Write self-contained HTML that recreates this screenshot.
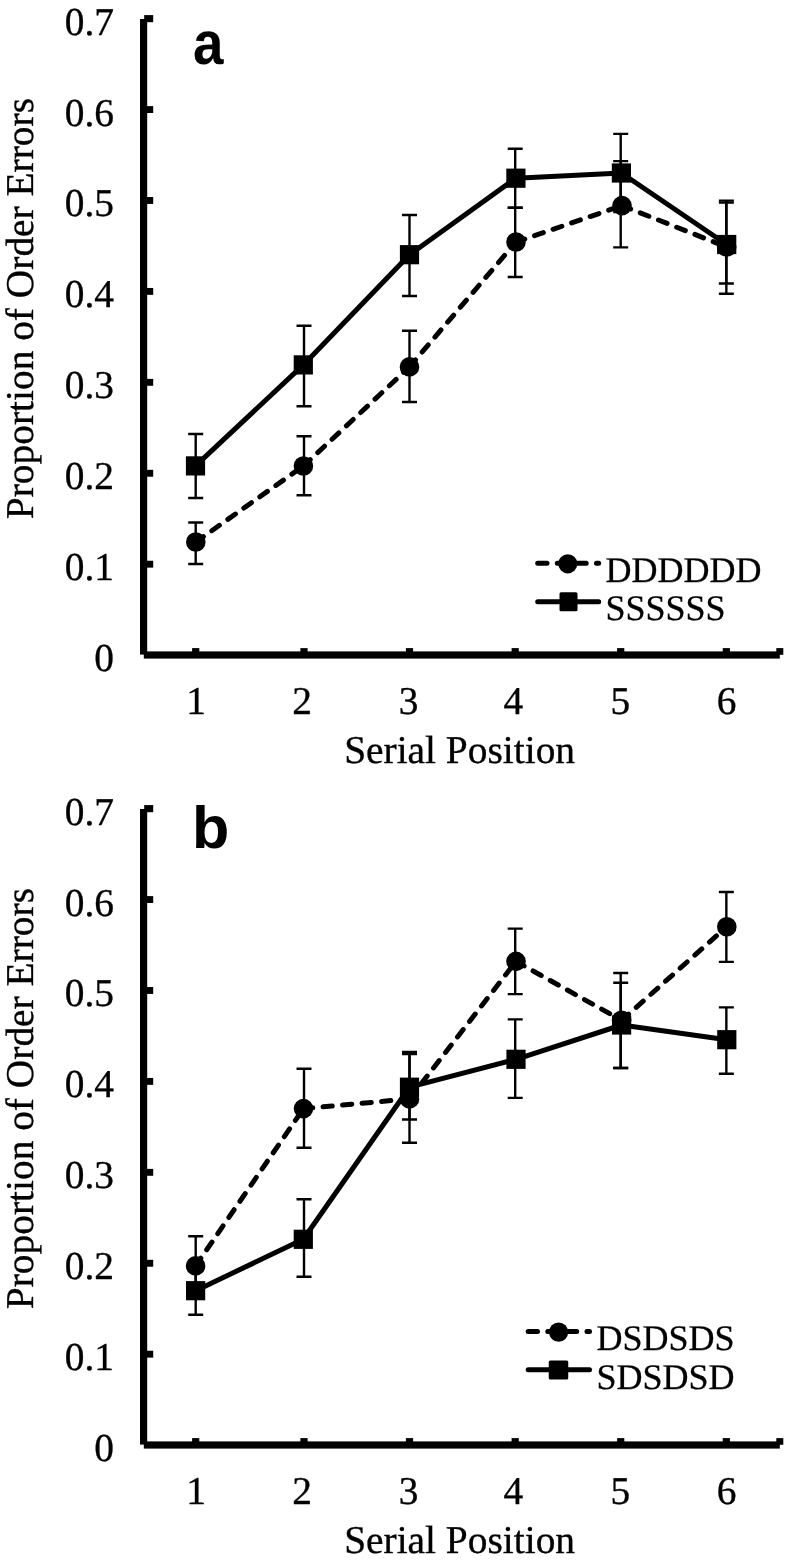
<!DOCTYPE html>
<html><head><meta charset="utf-8"><title>Serial Position Chart</title>
<style>
html,body{margin:0;padding:0;background:#fff;}
body{width:785px;height:1565px;overflow:hidden;}
svg{display:block;will-change:transform;text-rendering:geometricPrecision;}
.lab{font-family:"Liberation Serif",serif;font-size:39.4px;fill:#000;stroke:#000;stroke-width:0.35px;}
.leg{font-family:"Liberation Serif",serif;font-size:36px;fill:#000;stroke:#000;stroke-width:0.3px;}
.let{font-family:"Liberation Sans",sans-serif;font-weight:bold;font-size:60.8px;fill:#000;}
</style></head>
<body>
<svg width="785" height="1565" viewBox="0 0 785 1565">
<rect width="785" height="1565" fill="#fff"/>
<g fill="#000">
<rect x="140" y="19" width="7.2" height="635.6" />
<rect x="146" y="560.75" width="7.2" height="6.9" />
<rect x="146" y="469.82" width="7.2" height="6.9" />
<rect x="146" y="378.89" width="7.2" height="6.9" />
<rect x="146" y="287.96" width="7.2" height="6.9" />
<rect x="146" y="197.03" width="7.2" height="6.9" />
<rect x="146" y="106.1" width="7.2" height="6.9" />
<rect x="144.2" y="15.1" width="9" height="7.1" />
<rect x="143.8" y="651.4" width="636" height="7.2" />
<rect x="192.1" y="648.1" width="7.2" height="4" />
<rect x="300.4" y="648.1" width="7.2" height="4" />
<rect x="405.9" y="648.1" width="7.2" height="4" />
<rect x="511.6" y="648.1" width="7.2" height="4" />
<rect x="617.1" y="648.1" width="7.2" height="4" />
<rect x="722.75" y="648.1" width="7.2" height="4" />
<rect x="776.3" y="648.1" width="7" height="6.7" />
<rect x="140" y="809" width="7.2" height="635.6" />
<rect x="146" y="1350.75" width="7.2" height="6.9" />
<rect x="146" y="1259.82" width="7.2" height="6.9" />
<rect x="146" y="1168.89" width="7.2" height="6.9" />
<rect x="146" y="1077.96" width="7.2" height="6.9" />
<rect x="146" y="987.03" width="7.2" height="6.9" />
<rect x="146" y="896.1" width="7.2" height="6.9" />
<rect x="144.2" y="805.1" width="9" height="7.1" />
<rect x="143.8" y="1441.4" width="636" height="7.2" />
<rect x="192.1" y="1438.1" width="7.2" height="4" />
<rect x="300.4" y="1438.1" width="7.2" height="4" />
<rect x="405.9" y="1438.1" width="7.2" height="4" />
<rect x="511.6" y="1438.1" width="7.2" height="4" />
<rect x="617.1" y="1438.1" width="7.2" height="4" />
<rect x="722.75" y="1438.1" width="7.2" height="4" />
<rect x="776.3" y="1438.1" width="7" height="6.7" />
<text x="114" y="671.13" class="lab" text-anchor="end">0</text>
<text x="114" y="580.2" class="lab" text-anchor="end">0.1</text>
<text x="114" y="489.27" class="lab" text-anchor="end">0.2</text>
<text x="114" y="398.34" class="lab" text-anchor="end">0.3</text>
<text x="114" y="307.41" class="lab" text-anchor="end">0.4</text>
<text x="114" y="216.48" class="lab" text-anchor="end">0.5</text>
<text x="114" y="125.55" class="lab" text-anchor="end">0.6</text>
<text x="114" y="34.62" class="lab" text-anchor="end">0.7</text>
<text x="196.2" y="714" class="lab" text-anchor="middle">1</text>
<text x="302.2" y="714" class="lab" text-anchor="middle">2</text>
<text x="408.5" y="714" class="lab" text-anchor="middle">3</text>
<text x="513.4" y="714" class="lab" text-anchor="middle">4</text>
<text x="620.3" y="714" class="lab" text-anchor="middle">5</text>
<text x="726.65" y="714" class="lab" text-anchor="middle">6</text>
<text x="459.6" y="763.4" class="lab" text-anchor="middle">Serial Position</text>
<text transform="translate(33,308.6) rotate(-90)" class="lab" text-anchor="middle">Proportion of Order Errors</text>
<text x="114" y="1461.13" class="lab" text-anchor="end">0</text>
<text x="114" y="1370.2" class="lab" text-anchor="end">0.1</text>
<text x="114" y="1279.27" class="lab" text-anchor="end">0.2</text>
<text x="114" y="1188.34" class="lab" text-anchor="end">0.3</text>
<text x="114" y="1097.41" class="lab" text-anchor="end">0.4</text>
<text x="114" y="1006.48" class="lab" text-anchor="end">0.5</text>
<text x="114" y="915.55" class="lab" text-anchor="end">0.6</text>
<text x="114" y="824.62" class="lab" text-anchor="end">0.7</text>
<text x="196.2" y="1504" class="lab" text-anchor="middle">1</text>
<text x="302.2" y="1504" class="lab" text-anchor="middle">2</text>
<text x="408.5" y="1504" class="lab" text-anchor="middle">3</text>
<text x="513.4" y="1504" class="lab" text-anchor="middle">4</text>
<text x="620.3" y="1504" class="lab" text-anchor="middle">5</text>
<text x="726.65" y="1504" class="lab" text-anchor="middle">6</text>
<text x="459.6" y="1553.4" class="lab" text-anchor="middle">Serial Position</text>
<text transform="translate(33,1098.6) rotate(-90)" class="lab" text-anchor="middle">Proportion of Order Errors</text>
<text x="194.6" y="64.1" class="let" transform="translate(194.6,0) scale(0.9,1) translate(-194.6,0)" dx="-1.8">a</text>
<text x="196.1" y="847.7" class="let" style="font-size:59.4px" transform="translate(196.1,0) scale(1.027,1) translate(-196.1,0)" dx="-3.9">b</text>
<path d="M195.8,542 L303.4,466 M303.4,466 L409.5,366.9 M409.5,366.9 L516,242 M516,242 L622,205.6 M622,205.6 L726.7,247" fill="none" stroke="#000" stroke-width="5.0" stroke-dasharray="9.3 10.3" stroke-linecap="round"/>
<path d="M195.5,465.9 L303.3,364.9 L409.5,254.7 L515.9,178.2 L621.4,173 L726.7,244.5" fill="none" stroke="#000" stroke-width="5.0" stroke-linejoin="round"/>
<g fill="none" stroke="#000" stroke-width="2.4"><path d="M195.7,522.5 V564 M188.2,522.5 H203.2 M188.2,564 H203.2" />
<path d="M304,436.3 V495.2 M296.5,436.3 H311.5 M296.5,495.2 H311.5" />
<path d="M409.5,330.7 V402 M402,330.7 H417 M402,402 H417" />
<path d="M515.2,207.7 V277 M507.7,207.7 H522.7 M507.7,277 H522.7" />
<path d="M620.7,161.1 V247.4 M613.2,161.1 H628.2 M613.2,247.4 H628.2" />
<path d="M726.35,202.6 V293.7 M718.85,202.6 H733.85 M718.85,293.7 H733.85" /></g>
<g fill="none" stroke="#000" stroke-width="2.4"><path d="M195.7,434 V498 M188.2,434 H203.2 M188.2,498 H203.2" />
<path d="M304,325.8 V406.2 M296.5,325.8 H311.5 M296.5,406.2 H311.5" />
<path d="M409.5,215 V296 M402,215 H417 M402,296 H417" />
<path d="M515.2,148.7 V207.7 M507.7,148.7 H522.7 M507.7,207.7 H522.7" />
<path d="M620.7,133.9 V212 M613.2,133.9 H628.2 M613.2,212 H628.2" />
<path d="M726.35,200.6 V283.5 M718.85,200.6 H733.85 M718.85,283.5 H733.85" /></g>
<circle cx="195.8" cy="542" r="9.8" />
<circle cx="303.4" cy="466" r="9.8" />
<circle cx="409.5" cy="366.9" r="9.8" />
<circle cx="516" cy="242" r="9.8" />
<circle cx="622" cy="205.6" r="9.8" />
<circle cx="726.7" cy="247" r="9.8" />
<rect x="185.9" y="456.3" width="19.2" height="19.2" />
<rect x="293.7" y="355.3" width="19.2" height="19.2" />
<rect x="399.9" y="245.1" width="19.2" height="19.2" />
<rect x="506.3" y="168.6" width="19.2" height="19.2" />
<rect x="611.8" y="163.4" width="19.2" height="19.2" />
<rect x="717.1" y="234.9" width="19.2" height="19.2" />
<path d="M195.6,1265.9 L303.5,1108.6 M303.5,1108.6 L409.5,1098.9 M409.5,1098.9 L516,961.4 M516,961.4 L621.6,1020.3 M621.6,1020.3 L726.8,926.7" fill="none" stroke="#000" stroke-width="5.0" stroke-dasharray="9.3 10.3" stroke-linecap="round"/>
<path d="M195.6,1290.7 L303.3,1239.3 L409.5,1087.2 L516,1059.3 L621.6,1025 L726.8,1039.7" fill="none" stroke="#000" stroke-width="5.0" stroke-linejoin="round"/>
<g fill="none" stroke="#000" stroke-width="2.4"><path d="M195.7,1236.3 V1295.5 M188.2,1236.3 H203.2 M188.2,1295.5 H203.2" />
<path d="M304,1068.7 V1147.7 M296.5,1068.7 H311.5 M296.5,1147.7 H311.5" />
<path d="M409.5,1054 V1142.8 M402,1054 H417 M402,1142.8 H417" />
<path d="M515.2,928.6 V994.1 M507.7,928.6 H522.7 M507.7,994.1 H522.7" />
<path d="M620.7,973 V1068 M613.2,973 H628.2 M613.2,1068 H628.2" />
<path d="M726.35,892 V961.9 M718.85,892 H733.85 M718.85,961.9 H733.85" /></g>
<g fill="none" stroke="#000" stroke-width="2.4"><path d="M195.7,1266.6 V1314.8 M188.2,1266.6 H203.2 M188.2,1314.8 H203.2" />
<path d="M304,1199.2 V1276.8 M296.5,1199.2 H311.5 M296.5,1276.8 H311.5" />
<path d="M409.5,1052 V1119.5 M402,1052 H417 M402,1119.5 H417" />
<path d="M515.2,1019.4 V1097.9 M507.7,1019.4 H522.7 M507.7,1097.9 H522.7" />
<path d="M620.7,982.8 V1068 M613.2,982.8 H628.2 M613.2,1068 H628.2" />
<path d="M726.35,1007.4 V1073.7 M718.85,1007.4 H733.85 M718.85,1073.7 H733.85" /></g>
<circle cx="195.6" cy="1265.9" r="9.8" />
<circle cx="303.5" cy="1108.6" r="9.8" />
<circle cx="409.5" cy="1098.9" r="9.8" />
<circle cx="516" cy="961.4" r="9.8" />
<circle cx="621.6" cy="1020.3" r="9.8" />
<circle cx="726.8" cy="926.7" r="9.8" />
<rect x="186" y="1281.1" width="19.2" height="19.2" />
<rect x="293.7" y="1229.7" width="19.2" height="19.2" />
<rect x="399.9" y="1077.6" width="19.2" height="19.2" />
<rect x="506.4" y="1049.7" width="19.2" height="19.2" />
<rect x="612" y="1015.4" width="19.2" height="19.2" />
<rect x="717.2" y="1030.1" width="19.2" height="19.2" />
<path d="M537.7,563.2 H598.7" fill="none" stroke="#000" stroke-width="5.0" stroke-dasharray="9.3 10.3" stroke-linecap="round"/>
<circle cx="567.8" cy="563.8" r="9.6" />
<path d="M537.7,601.7 H598.7" fill="none" stroke="#000" stroke-width="5.0" stroke-linecap="round"/>
<rect x="559.5" y="592.2" width="18" height="19" rx="1.5"/>
<text x="605.5" y="581.8" class="leg">DDDDDD</text>
<text x="605.5" y="619.6" class="leg">SSSSSS</text>
<path d="M528.2,1331.5 H589.5" fill="none" stroke="#000" stroke-width="5.0" stroke-dasharray="9.3 10.3" stroke-linecap="round"/>
<circle cx="558.6" cy="1332.1" r="9.6" />
<path d="M528.2,1369.7 H589.5" fill="none" stroke="#000" stroke-width="5.0" stroke-linecap="round"/>
<rect x="548.75" y="1360.5" width="19.5" height="19" rx="1.5"/>
<text x="596.5" y="1350.3" class="leg">DSDSDS</text>
<text x="596.5" y="1388.6" class="leg">SDSDSD</text>
</g>
</svg>
</body></html>
